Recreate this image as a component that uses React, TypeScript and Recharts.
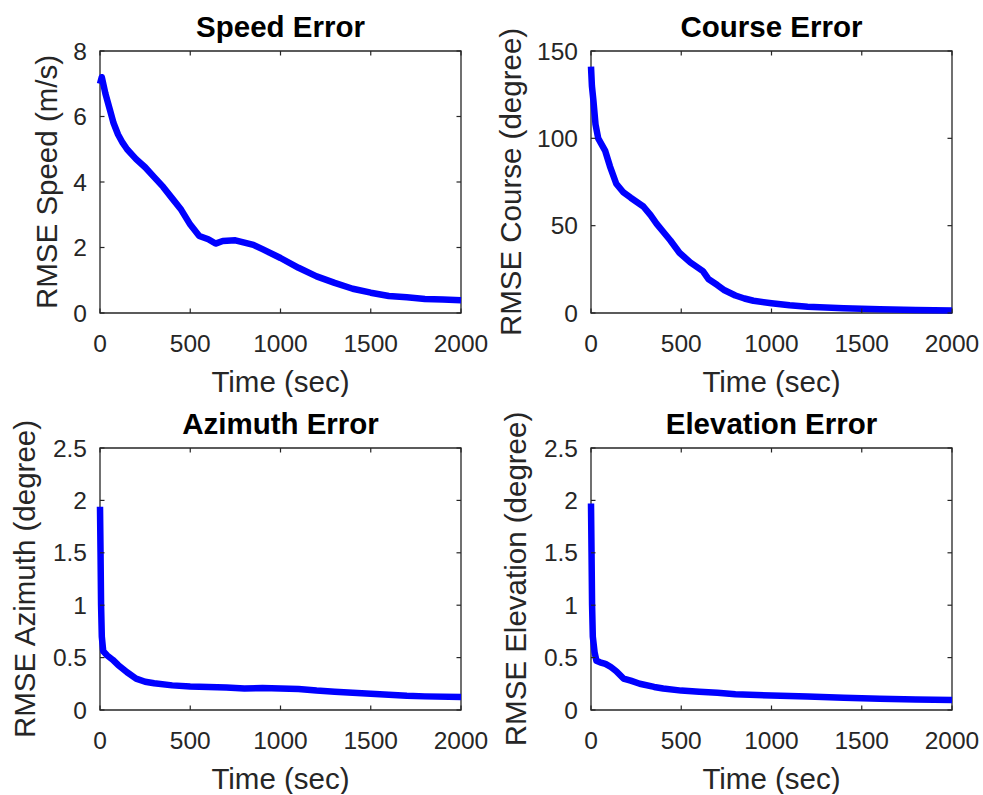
import React from 'react';
import { LineChart, Line, XAxis, YAxis, ReferenceArea } from 'recharts';

// ---------- data ----------
const speedTime = [0, 10, 30, 55, 75, 100, 125, 150, 200, 250, 300, 350, 400, 450, 500, 550, 600, 640, 680, 750, 800, 850, 900, 1000, 1100, 1200, 1300, 1400, 1500, 1600, 1700, 1800, 1900, 2000];
const speedRmse = [7.0, 7.2, 6.7, 6.2, 5.8, 5.45, 5.2, 5.0, 4.7, 4.45, 4.15, 3.85, 3.5, 3.15, 2.7, 2.35, 2.25, 2.12, 2.2, 2.22, 2.15, 2.08, 1.95, 1.68, 1.38, 1.12, 0.92, 0.74, 0.62, 0.52, 0.48, 0.43, 0.41, 0.39];

const courseTime = [0, 5, 13, 25, 40, 78, 105, 140, 180, 220, 290, 330, 364, 400, 440, 490, 550, 620, 650, 700, 740, 800, 850, 900, 1000, 1100, 1200, 1400, 1600, 1800, 2000];
const courseRmse = [141, 130, 122, 108, 100, 93, 84, 74, 69, 66, 61, 56, 51, 46.5, 41.5, 34.5, 29, 24, 19.5, 16, 13, 10, 8.3, 7, 5.6, 4.4, 3.6, 2.7, 2.1, 1.7, 1.4];

const azimuthTime = [0, 3, 6, 10, 18, 40, 70, 100, 150, 200, 250, 300, 400, 500, 600, 700, 800, 900, 1000, 1100, 1200, 1300, 1400, 1500, 1600, 1700, 1800, 2000];
const azimuthRmse = [1.94, 1.5, 1.0, 0.7, 0.56, 0.52, 0.48, 0.43, 0.36, 0.3, 0.27, 0.255, 0.235, 0.225, 0.22, 0.215, 0.205, 0.21, 0.205, 0.2, 0.185, 0.175, 0.165, 0.155, 0.145, 0.135, 0.13, 0.125];

const elevationTime = [0, 3, 6, 10, 20, 30, 50, 80, 110, 140, 180, 220, 270, 350, 400, 500, 600, 700, 800, 1000, 1200, 1400, 1600, 1800, 2000];
const elevationRmse = [1.97, 1.5, 1.0, 0.7, 0.55, 0.47, 0.455, 0.44, 0.41, 0.37, 0.3, 0.28, 0.25, 0.22, 0.205, 0.185, 0.175, 0.165, 0.15, 0.138, 0.128, 0.118, 0.108, 0.1, 0.095];

const timeTicks = [0, 500, 1000, 1500, 2000];
const speedTicks = [0, 2, 4, 6, 8];
const courseTicks = [0, 50, 100, 150];
const angleTicks = [0, 0.5, 1, 1.5, 2, 2.5];

// ---------- styling ----------
const FONT = '"Liberation Sans", Arial, Helvetica, sans-serif';
const AX = '#262626';
const CW = 491;
const CH = 397;
const PL = 100; // plot left inside a chart
const PT = 51;
const PW = 361;
const PH = 262;
const TICK = 4.5;

const XTick = (props: any) => {
  const { x, y, payload } = props;
  return (
    <g>
      <line x1={x} y1={y} x2={x} y2={y - TICK} stroke={AX} strokeWidth={1.2} />
      <line x1={x} y1={y - PH} x2={x} y2={y - PH + TICK} stroke={AX} strokeWidth={1.2} />
      <text x={x} y={y + 39} textAnchor="middle" fontSize={24.5} fill={AX} fontFamily={FONT}>
        {payload.value}
      </text>
    </g>
  );
};

const YTick = (props: any) => {
  const { x, y, payload } = props;
  return (
    <g>
      <line x1={x} y1={y} x2={x + TICK} y2={y} stroke={AX} strokeWidth={1.2} />
      <line x1={x + PW} y1={y} x2={x + PW - TICK} y2={y} stroke={AX} strokeWidth={1.2} />
      <text x={x - 13} y={y + 8.5} textAnchor="end" fontSize={24.5} fill={AX} fontFamily={FONT}>
        {payload.value}
      </text>
    </g>
  );
};

const Labels = (props: any) => {
  const { title, ylabel, ylabelX } = props;
  const cx = PL + PW / 2;
  const cy = PT + PH / 2;
  return (
    <g>
      <text x={cx} y={37} textAnchor="middle" fontSize={29.5} fontWeight="bold" fill="#000" fontFamily={FONT}>
        {title}
      </text>
      <text x={cx} y={PT + PH + 79} textAnchor="middle" fontSize={29.5} fill={AX} fontFamily={FONT}>
        Time (sec)
      </text>
      <text
        x={ylabelX}
        y={cy}
        textAnchor="middle"
        fontSize={29.5}
        fill={AX}
        fontFamily={FONT}
        transform={`rotate(-90, ${ylabelX}, ${cy})`}
      >
        {ylabel}
      </text>
    </g>
  );
};

type PanelProps = {
  left: number;
  top: number;
  times: number[];
  values: number[];
  yMax: number;
  yTicks: number[];
  title: string;
  ylabel: string;
  ylabelX: number;
};

const Panel = ({ left, top, times, values, yMax, yTicks, title, ylabel, ylabelX }: PanelProps) => {
  const data = times.map((t, i) => ({ t, v: values[i] }));
  return (
    <div style={{ position: 'absolute', left, top, width: CW, height: CH }}>
      <LineChart width={CW} height={CH} data={data} margin={{ top: PT, right: CW - PL - PW, bottom: CH - PT - PH - 60, left: PL - 60 }}>
        <XAxis
          dataKey="t"
          type="number"
          domain={[0, 2000]}
          ticks={timeTicks}
          interval={0}
          height={60}
          tickSize={0}
          tickMargin={0}
          tickLine={false}
          axisLine={false}
          tick={<XTick />}
          label={<Labels title={title} ylabel={ylabel} ylabelX={ylabelX} />}
        />
        <YAxis
          type="number"
          domain={[0, yMax]}
          ticks={yTicks}
          interval={0}
          width={60}
          tickSize={0}
          tickMargin={0}
          tickLine={false}
          axisLine={false}
          tick={<YTick />}
        />
        <ReferenceArea x1={0} x2={2000} y1={0} y2={yMax} fill="none" fillOpacity={0} stroke={AX} strokeWidth={1.3} strokeOpacity={1} />
        <Line
          type="linear"
          dataKey="v"
          stroke="#0000ff"
          strokeWidth={6.5}
          strokeLinejoin="round"
          dot={false}
          activeDot={false}
          isAnimationActive={false}
        />
      </LineChart>
    </div>
  );
};

export default function App() {
  return (
    <div style={{ position: 'absolute', left: 0, top: 0, width: 983, height: 795, background: '#fff', overflow: 'hidden' }}>
      <Panel left={0} top={0} times={speedTime} values={speedRmse} yMax={8} yTicks={speedTicks} title="Speed Error" ylabel="RMSE Speed (m/s)" ylabelX={57} />
      <Panel left={491} top={0} times={courseTime} values={courseRmse} yMax={150} yTicks={courseTicks} title="Course Error" ylabel="RMSE Course (degree)" ylabelX={30} />
      <Panel left={0} top={397} times={azimuthTime} values={azimuthRmse} yMax={2.5} yTicks={angleTicks} title="Azimuth Error" ylabel="RMSE Azimuth (degree)" ylabelX={35} />
      <Panel left={491} top={397} times={elevationTime} values={elevationRmse} yMax={2.5} yTicks={angleTicks} title="Elevation Error" ylabel="RMSE Elevation (degree)" ylabelX={35} />
    </div>
  );
}
